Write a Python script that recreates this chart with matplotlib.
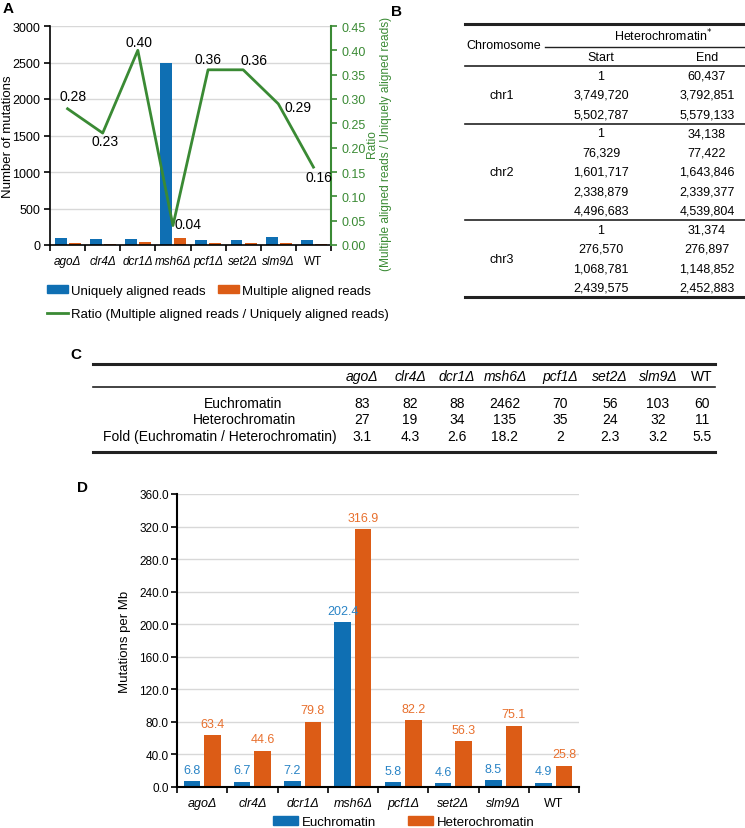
import matplotlib.pyplot as plt
from matplotlib.patches import Patch
from matplotlib.lines import Line2D

plt.rcParams['font.family'] = ['Liberation Sans', 'DejaVu Sans']

strains = ['ago\u0394', 'clr4\u0394', 'dcr1\u0394', 'msh6\u0394', 'pcf1\u0394', 'set2\u0394', 'slm9\u0394', 'WT']

# panel A
uniquely = [90, 85, 88, 2500, 75, 62, 105, 65]
multiple = [25, 20, 35, 90, 27, 22, 30, 10]
ratio = [0.28, 0.23, 0.40, 0.04, 0.36, 0.36, 0.29, 0.16]

# panel B
chromosomes = ['chr1', 'chr2', 'chr3']
het_start = [['1', '3,749,720', '5,502,787'],
             ['1', '76,329', '1,601,717', '2,338,879', '4,496,683'],
             ['1', '276,570', '1,068,781', '2,439,575']]
het_end = [['60,437', '3,792,851', '5,579,133'],
           ['34,138', '77,422', '1,643,846', '2,339,377', '4,539,804'],
           ['31,374', '276,897', '1,148,852', '2,452,883']]

# panel C
row_names = ['Euchromatin', 'Heterochromatin', 'Fold (Euchromatin / Heterochromatin)']
euchromatin = ['83', '82', '88', '2462', '70', '56', '103', '60']
heterochromatin = ['27', '19', '34', '135', '35', '24', '32', '11']
fold = ['3.1', '4.3', '2.6', '18.2', '2', '2.3', '3.2', '5.5']

# panel D
eu_per_mb = [6.8, 6.7, 7.2, 202.4, 5.8, 4.6, 8.5, 4.9]
het_per_mb = [63.4, 44.6, 79.8, 316.9, 82.2, 56.3, 75.1, 25.8]

blue = '#0f6fb3'
orange = '#dc5c16'
green = '#3a8a34'
grid = '#d8d8d8'

W, H = 745, 829
fig = plt.figure(figsize=(W / 100, H / 100), dpi=100)


def box(x0, y0, x1, y1):
    return [x0 / W, 1 - y1 / H, (x1 - x0) / W, (y1 - y0) / H]


def strain_ticks(ax, size):
    x = range(len(strains))
    ax.set_xlim(-0.5, len(strains) - 0.5)
    ax.set_xticks([i + 0.5 for i in range(-1, len(strains))])
    ax.set_xticklabels([])
    ax.tick_params(axis='x', which='major', length=4, width=1.2, direction='out')
    ax.set_xticks(list(x), minor=True)
    ax.set_xticklabels(strains, minor=True, fontsize=size)
    ax.tick_params(axis='x', which='minor', length=0, pad=7)
    for t, s in zip(ax.get_xticklabels(minor=True), strains):
        if s != 'WT':
            t.set_fontstyle('italic')


# ---------- A ----------
ax = fig.add_axes(box(50, 27, 331, 246))
x = list(range(len(strains)))
ax.bar([i - 0.19 for i in x], uniquely, width=0.34, color=blue)
ax.bar([i + 0.21 for i in x], multiple, width=0.34, color=orange)
ax.set_ylim(0, 3000)
ax.set_yticks(range(0, 3001, 500))
ax.yaxis.grid(True, color=grid, lw=1)
ax.set_axisbelow(True)
ax.tick_params(axis='y', labelsize=9, length=4, width=1.2, pad=3)
strain_ticks(ax, 8.5)
ax.spines['top'].set_visible(False)
ax.spines['right'].set_visible(False)
ax.spines['left'].set_linewidth(1.2)
ax.spines['bottom'].set_linewidth(1.2)
ax.set_ylabel('Number of mutations', fontsize=9.5)
ax.yaxis.set_label_coords(-0.128, 0.5)

ax2 = ax.twinx()
ax2.plot(x, ratio, color=green, lw=2)
ax2.set_ylim(0, 0.45)
ax2.set_yticks([i * 0.05 for i in range(10)])
ax2.set_yticklabels(['%.2f' % (i * 0.05) for i in range(10)])
ax2.tick_params(axis='y', colors=green, labelsize=9, length=4, width=1.2)
for s in ['top', 'left', 'bottom']:
    ax2.spines[s].set_visible(False)
ax2.spines['right'].set_color(green)
ax2.spines['right'].set_linewidth(1.5)
offsets = [(4, 9), (2, -6), (1, 6), (11, 1), (0, 8), (8, 7), (14, -2), (4, -7)]
for i, (r, off) in enumerate(zip(ratio, offsets)):
    ax2.annotate('%.2f' % r, (i, r), xytext=off, textcoords='offset points',
                 ha='center', va='center', fontsize=10)

fig.text(379 / W, 1 - 144 / H, 'Ratio\n(Multiple aligned reads / Uniquely aligned reads)',
         rotation=90, ha='center', va='center', multialignment='center',
         color=green, fontsize=8.6)

fig.legend([Patch(color=blue), Patch(color=orange)],
           ['Uniquely aligned reads', 'Multiple aligned reads'],
           loc='center left', bbox_to_anchor=(47 / W, 1 - 292 / H), ncol=2,
           frameon=False, fontsize=9.5, handlelength=1.6, handleheight=0.55,
           handletextpad=0.25, columnspacing=0.9, borderpad=0, borderaxespad=0)
fig.legend([Line2D([], [], color=green, lw=2)],
           ['Ratio (Multiple aligned reads / Uniquely aligned reads)'],
           loc='center left', bbox_to_anchor=(47 / W, 1 - 315 / H),
           frameon=False, fontsize=9.5, handlelength=1.6,
           handletextpad=0.25, borderpad=0, borderaxespad=0)

# ---------- overlay for tables and panel letters ----------
ov = fig.add_axes([0, 0, 1, 1])
ov.set_xlim(0, W)
ov.set_ylim(H, 0)
ov.axis('off')

for lab, px, py in [('A', 8, 9), ('B', 397, 12), ('C', 76, 355), ('D', 83, 488)]:
    ov.text(px, py, lab, fontsize=11, fontweight='bold', ha='center', va='center')

# ---------- B ----------
fs_b = 9
ov.plot([465, 745], [25, 25], color='#222', lw=2.2)
ov.text(504, 46, 'Chromosome', fontsize=fs_b, ha='center', va='center')
ov.text(663, 36, 'Heterochromatin$^{*}$', fontsize=fs_b, ha='center', va='center')
ov.plot([545, 745], [48, 48], color='#222', lw=1)
ov.text(601, 58, 'Start', fontsize=fs_b, ha='center', va='center')
ov.text(707, 58, 'End', fontsize=fs_b, ha='center', va='center')
hb = 67
ov.plot([465, 745], [hb, hb], color='#222', lw=1.2)
nrows = sum(len(s) for s in het_start)
pitch = (298 - hb) / nrows
row = 0
for k, (chrom, starts, ends) in enumerate(zip(chromosomes, het_start, het_end)):
    for i, (s, e) in enumerate(zip(starts, ends)):
        y = hb + pitch * (row + i + 0.5)
        ov.text(601, y, s, fontsize=fs_b, ha='center', va='center')
        ov.text(707, y, e, fontsize=fs_b, ha='center', va='center')
    ov.text(502, hb + pitch * (row + len(starts) / 2), chrom, fontsize=fs_b,
            ha='center', va='center')
    row += len(starts)
    last = k == len(chromosomes) - 1
    ov.plot([465, 745], [hb + pitch * row] * 2, color='#222', lw=2.2 if last else 1.2)

# ---------- C ----------
fs_c = 10
col_x = [362, 410, 457, 505, 560, 610, 658, 702]
ov.plot([93, 715], [365, 365], color='#222', lw=2.2)
ov.plot([93, 715], [388, 388], color='#222', lw=1.2)
ov.plot([93, 715], [453, 453], color='#222', lw=2.2)
for cx, s in zip(col_x, strains):
    ov.text(cx, 377, s, fontsize=fs_c, ha='center', va='center',
            fontstyle='normal' if s == 'WT' else 'italic')
row_x = [243, 245, 220]
for r, (name, vals) in enumerate(zip(row_names, [euchromatin, heterochromatin, fold])):
    y = 404 + 16.5 * r
    ov.text(row_x[r], y, name, fontsize=fs_c, ha='center', va='center')
    for cx, v in zip(col_x, vals):
        ov.text(cx, y, v, fontsize=fs_c, ha='center', va='center')

# ---------- D ----------
axd = fig.add_axes(box(177, 495, 579, 788))
b1 = axd.bar([i - 0.205 for i in x], eu_per_mb, width=0.33, color=blue)
b2 = axd.bar([i + 0.205 for i in x], het_per_mb, width=0.33, color=orange)
axd.bar_label(b1, fmt='%.1f', padding=4, color='#2a84c6', fontsize=9)
axd.bar_label(b2, fmt='%.1f', padding=4, color='#e8702e', fontsize=9)
axd.set_ylim(0, 360)
axd.set_yticks(range(0, 361, 40))
axd.set_yticklabels(['%.1f' % v for v in range(0, 361, 40)])
axd.yaxis.grid(True, color=grid, lw=1)
axd.set_axisbelow(True)
axd.tick_params(axis='y', labelsize=8.5, length=4, width=1.2, pad=2)
strain_ticks(axd, 9)
axd.spines['top'].set_visible(False)
axd.spines['right'].set_visible(False)
axd.spines['left'].set_linewidth(1.5)
axd.spines['bottom'].set_linewidth(1.5)
axd.set_ylabel('Mutations per Mb', fontsize=9.5, labelpad=6)

fig.legend([Patch(color=blue), Patch(color=orange)], ['Euchromatin', 'Heterochromatin'],
           loc='center left', bbox_to_anchor=(273 / W, 1 - 823 / H), ncol=2,
           frameon=False, fontsize=9.5, handlelength=1.9, handleheight=0.6,
           handletextpad=0.3, columnspacing=2.4, borderpad=0, borderaxespad=0)

fig.savefig('out.png', dpi=100)
